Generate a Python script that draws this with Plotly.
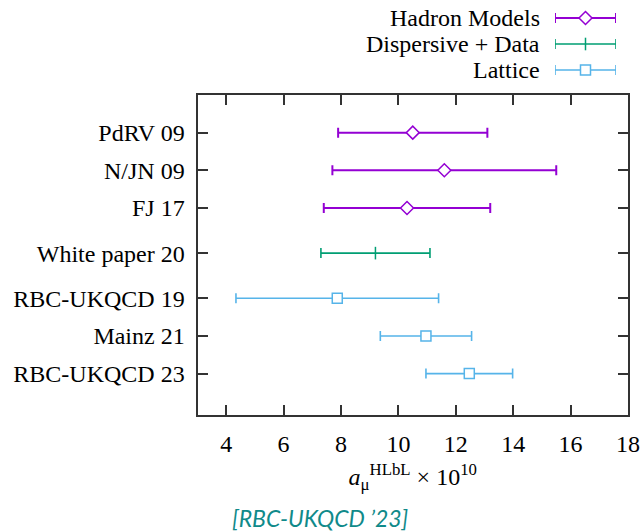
import plotly.graph_objects as go

# ---- data ----
labels = ["PdRV 09", "N/JN 09", "FJ 17", "White paper 20", "RBC-UKQCD 19", "Mainz 21", "RBC-UKQCD 23"]
y_pos = [1, 2, 3, 4.2, 5.4, 6.4, 7.4]
values = [10.5, 11.6, 10.3, 9.2, 7.87, 10.96, 12.47]
errors = [2.6, 3.9, 2.9, 1.9, 3.53, 1.59, 1.51]
groups = ["Hadron Models", "Hadron Models", "Hadron Models", "Dispersive + Data", "Lattice", "Lattice", "Lattice"]

group_names = ["Hadron Models", "Dispersive + Data", "Lattice"]
group_colors = {"Hadron Models": "#9400D3", "Dispersive + Data": "#009E73", "Lattice": "#56B4E9"}
group_symbols = {"Hadron Models": "diamond", "Dispersive + Data": "line-ns", "Lattice": "square"}
group_sizes = {"Hadron Models": 10, "Dispersive + Data": 9, "Lattice": 10}
group_widths = {"Hadron Models": 2, "Dispersive + Data": 1.6, "Lattice": 1.6}

x_ticks = [4, 6, 8, 10, 12, 14, 16, 18]

W, H = 641, 531
serif = "Liberation Serif"
fs = 24

fig = go.Figure()


def marker_for(g):
    c = group_colors[g]
    if group_symbols[g] == "line-ns":
        return dict(symbol="line-ns", size=group_sizes[g], color=c, line=dict(color=c, width=1.5))
    return dict(symbol=group_symbols[g], size=group_sizes[g], color="white", line=dict(color=c, width=1.5))


for g in group_names:
    idx = [i for i, gg in enumerate(groups) if gg == g]
    c = group_colors[g]
    fig.add_trace(go.Scatter(
        x=[values[i] for i in idx], y=[y_pos[i] for i in idx],
        mode="markers",
        marker=marker_for(g),
        error_x=dict(type="data", array=[errors[i] for i in idx], color=c,
                     thickness=group_widths[g], width=5),
        showlegend=False, cliponaxis=False,
        xaxis="x", yaxis="y",
    ))

# manual key (samples to the right of the text, as in the original)
key_rows = [0, 1, 2]
key_top, key_bot = 5, 83
key_row_px = [17.7, 43.9, 70]
for g, r, py in zip(group_names, key_rows, key_row_px):
    c = group_colors[g]
    fig.add_trace(go.Scatter(
        x=[1], y=[r], mode="markers", marker=marker_for(g),
        error_x=dict(type="data", array=[1], color=c, thickness=group_widths[g], width=5),
        showlegend=False, cliponaxis=False, xaxis="x2", yaxis="y2",
    ))
    fig.add_annotation(x=542 / W, y=(H - py) / H, xref="paper", yref="paper", text=g,
                       showarrow=False, xanchor="right", yanchor="middle",
                       font=dict(family=serif, size=fs, color="black"))

x0, x1 = 197.5, 628
y_top, y_bot = 95, 415

axis_common = dict(showline=True, linecolor="#333333", linewidth=2, mirror="ticks",
                   ticks="inside", ticklen=10, tickwidth=1.5, tickcolor="#333333",
                   showgrid=False, zeroline=False, automargin=False,
                   tickfont=dict(family=serif, size=fs, color="black"))

fig.update_layout(
    width=W, height=H, template="none",
    paper_bgcolor="white", plot_bgcolor="white",
    margin=dict(l=0, r=0, t=0, b=0),
    xaxis=dict(domain=[x0 / W, x1 / W], range=[3, 18], tickvals=x_ticks,
               ticktext=[str(v) for v in x_ticks], ticklabelstandoff=6,
               title=dict(text="<i>a</i><sub>μ</sub><sup>HLbL</sup> × 10<sup>10</sup>",
                          font=dict(family=serif, size=fs, color="black"), standoff=12),
               **axis_common),
    yaxis=dict(domain=[(H - y_bot) / H, (H - y_top) / H], range=[8.5, 0],
               tickvals=y_pos, ticktext=labels, ticklabelstandoff=6, **axis_common),
    xaxis2=dict(domain=[555 / W, 616 / W], range=[0, 2], visible=False, anchor="y2"),
    yaxis2=dict(domain=[(H - key_bot) / H, (H - key_top) / H], range=[2.5, -0.5], visible=False, anchor="x2"),
    showlegend=False,
)

fig.add_annotation(x=230 / W, y=(H - 518) / H, xref="paper", yref="paper",
                   text="<i>[RBC-UKQCD ’23]</i>", showarrow=False,
                   xanchor="left", yanchor="middle",
                   font=dict(family="Lato", size=23, color="#108a8a"))

fig.write_html("out.html")
